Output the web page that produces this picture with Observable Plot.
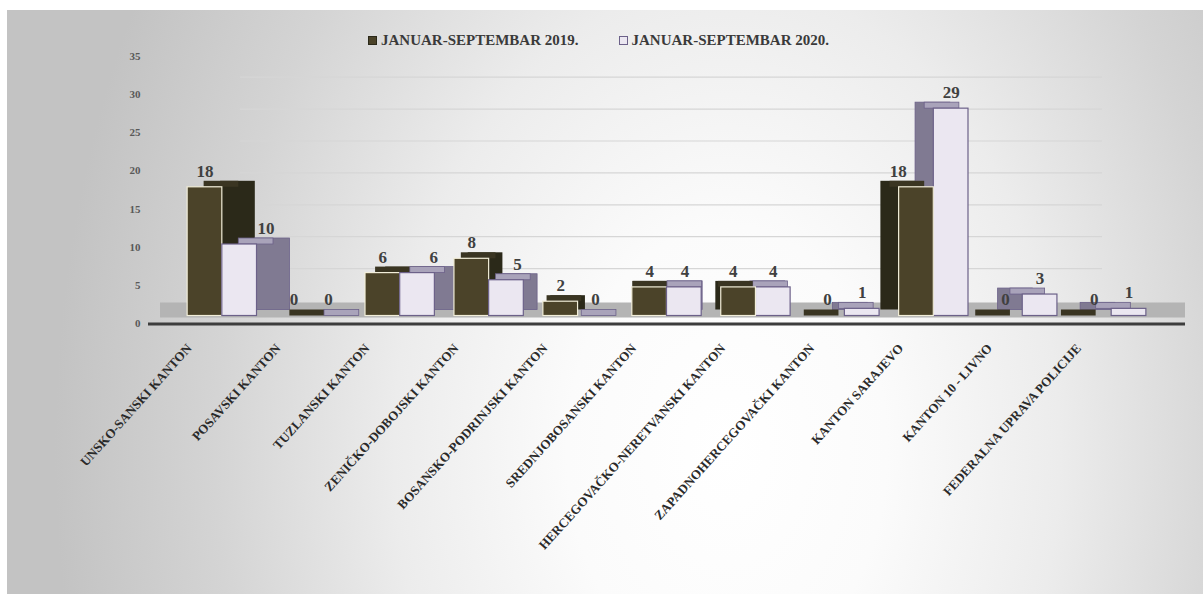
<!DOCTYPE html>
<html>
<head>
<meta charset="utf-8">
<script src="https://cdn.jsdelivr.net/npm/d3@7"></script>
<script src="https://cdn.jsdelivr.net/npm/@observablehq/plot@0.6"></script>
<style>
  html, body { margin: 0; padding: 0; background: #ffffff; }
  #chart {
    position: absolute; left: 7px; top: 10px; width: 1196px; height: 584px; overflow: hidden;
    background: radial-gradient(ellipse 640px 900px at 720px 440px, #ffffff 0%, #fbfbfb 25%, #ececec 52%, #d4d4d4 80%, #c3c3c3 105%);
  }
  #chart svg { position: absolute; left: 0; top: 0; }
  #legend {
    position: absolute; top: 22px; left: 361px; z-index: 2;
    font: bold 15px "Liberation Serif", serif; color: #3a3a3a;
    display: flex; align-items: center; white-space: nowrap;
  }
  #legend .sw { display: inline-block; width: 7px; height: 7px; margin-right: 4px; }
  #legend .item { display: flex; align-items: center; }
</style>
</head>
<body>
<div id="chart"></div>
<script>
// ---------------- data ----------------
const cantons = [
  "UNSKO-SANSKI KANTON",
  "POSAVSKI KANTON",
  "TUZLANSKI KANTON",
  "ZENIČKO-DOBOJSKI KANTON",
  "BOSANSKO-PODRINJSKI KANTON",
  "SREDNJOBOSANSKI KANTON",
  "HERCEGOVAČKO-NERETVANSKI KANTON",
  "ZAPADNOHERCEGOVAČKI KANTON",
  "KANTON SARAJEVO",
  "KANTON 10 - LIVNO",
  "FEDERALNA UPRAVA POLICIJE"
];
const seriesNames = ["JANUAR-SEPTEMBAR 2019.", "JANUAR-SEPTEMBAR 2020."];
const values2019 = [18, 0, 6, 8, 2, 4, 4, 0, 18, 0, 0];
const values2020 = [10, 0, 6, 5, 0, 4, 4, 1, 29, 3, 1];
const yTicks = [0, 5, 10, 15, 20, 25, 30, 35];

// ---------------- layout / style ----------------
const W = 1196, H = 584, mL = 141, mR = 18, mT = 55.25, mB = 278.5;
const pI = 0.22, pO = 0.44, n = cantons.length;
const step = (W - mL - mR) / (n - pI + 2 * pO);
const bw = step * (1 - pI), half = bw / 2;
const vanish = 673, persp = 0.072, depthY = -6;
const sideOf = i => persp * (vanish - (mL + step * (pO + i) + bw / 2));
const serif = "'Liberation Serif', serif";

const dark = {front: "#4b4329", side: "#2b2919", top: "#3a3522", edge: "#f2eed9", sideEdge: "none"};
const light = {front: "#ebe7f1", side: "#807a92", top: "#a9a3ba", edge: "#6c6189", sideEdge: "#6c6189"};

const rows = cantons.map((c, i) => ({canton: c, i, a: values2019[i], b: values2020[i]}));

function barSet(row, key, col, isFirst) {
  const w = sideOf(row.i);
  const ins = isFirst ? {insetLeft: 0, insetRight: half} : {insetLeft: half, insetRight: 0};
  return [
    Plot.barY([row], {x: "canton", y1: d => 0, y2: key, ...ins, dx: w, dy: depthY,
      fill: col.side, stroke: col.sideEdge, strokeWidth: 0.8}),
    Plot.barY([row], {x: "canton", y1: key, y2: key, ...ins, insetTop: depthY, dx: w / 2,
      fill: col.top, stroke: col.sideEdge, strokeWidth: 0.8}),
    Plot.barY([row], {x: "canton", y1: d => 0, y2: key, ...ins,
      fill: col.front, stroke: col.edge, strokeWidth: 1.2})
  ];
}

function labelSet(row, key, isFirst) {
  const w = sideOf(row.i);
  const v = row[key];
  let extra = 0;
  if (v > 0 && !isFirst && w > 0) extra = 0.8 * w;
  if (v > 0 && isFirst && w < 0) extra = w;
  return Plot.text([row], {
    x: "canton", y: key, text: d => String(d[key]),
    dx: (isFirst ? -half / 2 : half / 2) + extra, dy: -16,
    fontSize: 17, fontWeight: "bold", fontFamily: serif, fill: "#404040"
  });
}

const marks = [];
// back-wall gridlines
yTicks.filter(t => t > 0).forEach(t => {
  marks.push(Plot.ruleY([t], {stroke: "#d6d6d6", strokeWidth: 1.2, insetLeft: 92, insetRight: 83, dy: -15.5 + 0.77 * t}));
});
// floor and axis line
marks.push(Plot.ruleY([0], {stroke: "#b4b4b4", strokeWidth: 15, dy: -6, insetLeft: 12}));
marks.push(Plot.ruleY([0], {stroke: "#3d3d3d", strokeWidth: 3, dy: 8}));

// bars
rows.forEach(row => {
  const w = sideOf(row.i);
  if (w >= 0) {
    marks.push(...barSet(row, "a", dark, true), ...barSet(row, "b", light, false));
  } else {
    marks.push(...barSet(row, "b", light, false), ...barSet(row, "a", dark, true));
  }
});
// value labels
rows.forEach(row => {
  marks.push(labelSet(row, "a", true), labelSet(row, "b", false));
});
// y tick labels
yTicks.forEach(t => {
  marks.push(Plot.text([t], {y: d => d, text: d => String(d), frameAnchor: "left", textAnchor: "end",
    dx: -8, dy: 7.5 - 0.48 * t, fontSize: 11, fontWeight: "bold", fontFamily: serif, fill: "#595959"}));
});
// category labels
marks.push(Plot.text(rows, {x: "canton", y: d => 0, text: "canton", rotate: -48, textAnchor: "end",
  dx: -33, dy: 30, fontSize: 13, fontWeight: "bold", fontFamily: serif, fill: "#2a2a2a"}));

const chart = Plot.plot({
  width: W, height: H,
  marginLeft: mL, marginRight: mR, marginTop: mT, marginBottom: mB,
  x: {type: "band", domain: cantons, paddingInner: pI, paddingOuter: pO, round: false, axis: null},
  y: {domain: [0, 35], axis: null},
  style: {background: "transparent", fontFamily: serif, overflow: "visible"},
  marks
});

const container = document.getElementById("chart");
container.appendChild(chart);

// legend
const legend = document.createElement("div");
legend.id = "legend";
const swatches = [
  {fill: dark.front, border: "#2b2919"},
  {fill: light.front, border: light.edge}
];
seriesNames.forEach((s, i) => {
  const item = document.createElement("span");
  item.className = "item";
  if (i > 0) item.style.marginLeft = "40px";
  const sw = document.createElement("span");
  sw.className = "sw";
  sw.style.background = swatches[i].fill;
  sw.style.border = "1px solid " + swatches[i].border;
  item.appendChild(sw);
  item.appendChild(document.createTextNode(s));
  legend.appendChild(item);
});
container.appendChild(legend);
</script>
</body>
</html>
